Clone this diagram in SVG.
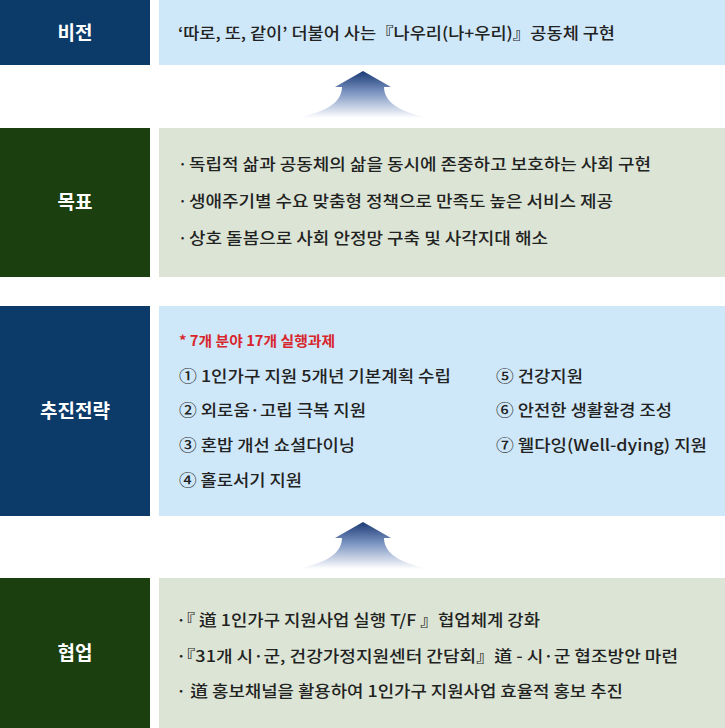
<svg xmlns="http://www.w3.org/2000/svg" width="725" height="728" viewBox="0 0 725 728">
<defs>
<style>
.hb{fill:#0c3a69}.lb{fill:#cfe8f9}.hg{fill:#1b3f0e}.lg{fill:#dce5d5}
.lab{font-family:"Noto Sans CJK KR","Noto Sans",sans-serif;font-size:19px;font-weight:bold;fill:#fff;text-anchor:middle}
.t{font-family:"Noto Sans CJK KR","Noto Sans",sans-serif;font-size:16px;font-weight:500;fill:#222}
.red{font-family:"Noto Sans CJK KR","Noto Sans",sans-serif;font-size:14px;font-weight:bold;fill:#d8262d}
</style>
<linearGradient id="ag" x1="0" y1="0" x2="0" y2="1">
<stop offset="0" stop-color="#1b3a75"/>
<stop offset="0.45" stop-color="#7a93c0"/>
<stop offset="1" stop-color="#ffffff"/>
</linearGradient>
<path id="arrow" d="M363,0 L391,16 L384,16 C384,34 406,42 429,47 L297,47 C320,42 342,34 342,16 L335,16 Z" fill="url(#ag)"/>
</defs>
<g id="connectors">
<use href="#arrow" y="71"/>
<use href="#arrow" y="522"/>
</g>
<g id="vision">
<rect class="hb" x="0" y="0" width="150" height="65"/>
<rect class="lb" x="159" y="0" width="566" height="65"/>
<text class="lab" x="75" y="40">비전</text>
<text class="t" x="178" y="39" textLength="437" lengthAdjust="spacingAndGlyphs">‘따로, 또, 같이’ 더불어 사는『나우리(나+우리)』공동체 구현</text>
</g>
<g id="goal">
<rect class="hg" x="0" y="128" width="150" height="149"/>
<rect class="lg" x="159" y="128" width="566" height="149"/>
<text class="lab" x="75" y="209">목표</text>
<text class="t" x="178" y="170">·</text>
<text class="t" x="189" y="170" textLength="462" lengthAdjust="spacingAndGlyphs">독립적 삶과 공동체의 삶을 동시에 존중하고 보호하는 사회 구현</text>
<text class="t" x="178" y="207">·</text>
<text class="t" x="189" y="207" textLength="424" lengthAdjust="spacingAndGlyphs">생애주기별 수요 맞춤형 정책으로 만족도 높은 서비스 제공</text>
<text class="t" x="178" y="244">·</text>
<text class="t" x="189" y="244" textLength="359" lengthAdjust="spacingAndGlyphs">상호 돌봄으로 사회 안정망 구축 및 사각지대 해소</text>
</g>
<g id="strategy">
<rect class="hb" x="0" y="306" width="150" height="210"/>
<rect class="lb" x="159" y="306" width="566" height="210"/>
<text class="lab" x="75" y="418">추진전략</text>
<text class="red" x="179" y="346" textLength="156" lengthAdjust="spacingAndGlyphs">* 7개 분야 17개 실행과제</text>
<text class="t" x="179" y="382" textLength="272" lengthAdjust="spacingAndGlyphs">① 1인가구 지원 5개년 기본계획 수립</text>
<text class="t" x="179" y="416" textLength="187" lengthAdjust="spacingAndGlyphs">② 외로움·고립 극복 지원</text>
<text class="t" x="179" y="451" textLength="176" lengthAdjust="spacingAndGlyphs">③ 혼밥 개선 쇼셜다이닝</text>
<text class="t" x="179" y="486" textLength="123" lengthAdjust="spacingAndGlyphs">④ 홀로서기 지원</text>
<text class="t" x="496" y="382" textLength="87" lengthAdjust="spacingAndGlyphs">⑤ 건강지원</text>
<text class="t" x="496" y="416" textLength="176" lengthAdjust="spacingAndGlyphs">⑥ 안전한 생활환경 조성</text>
<text class="t" x="496" y="451" textLength="211" lengthAdjust="spacingAndGlyphs">⑦ 웰다잉(Well-dying) 지원</text>
</g>
<g id="cooperation">
<rect class="hg" x="0" y="578" width="150" height="150"/>
<rect class="lg" x="159" y="578" width="566" height="150"/>
<text class="lab" x="75" y="660">협업</text>
<text class="t" x="176" y="626" textLength="364" lengthAdjust="spacingAndGlyphs">·『 道 1인가구 지원사업 실행 T/F 』협업체계 강화</text>
<text class="t" x="176" y="662" textLength="502" lengthAdjust="spacingAndGlyphs">·『31개 시·군, 건강가정지원센터 간담회』道 - 시·군 협조방안 마련</text>
<text class="t" x="176" y="697" textLength="447" lengthAdjust="spacingAndGlyphs">· 道 홍보채널을 활용하여 1인가구 지원사업 효율적 홍보 추진</text>
</g>
</svg>
